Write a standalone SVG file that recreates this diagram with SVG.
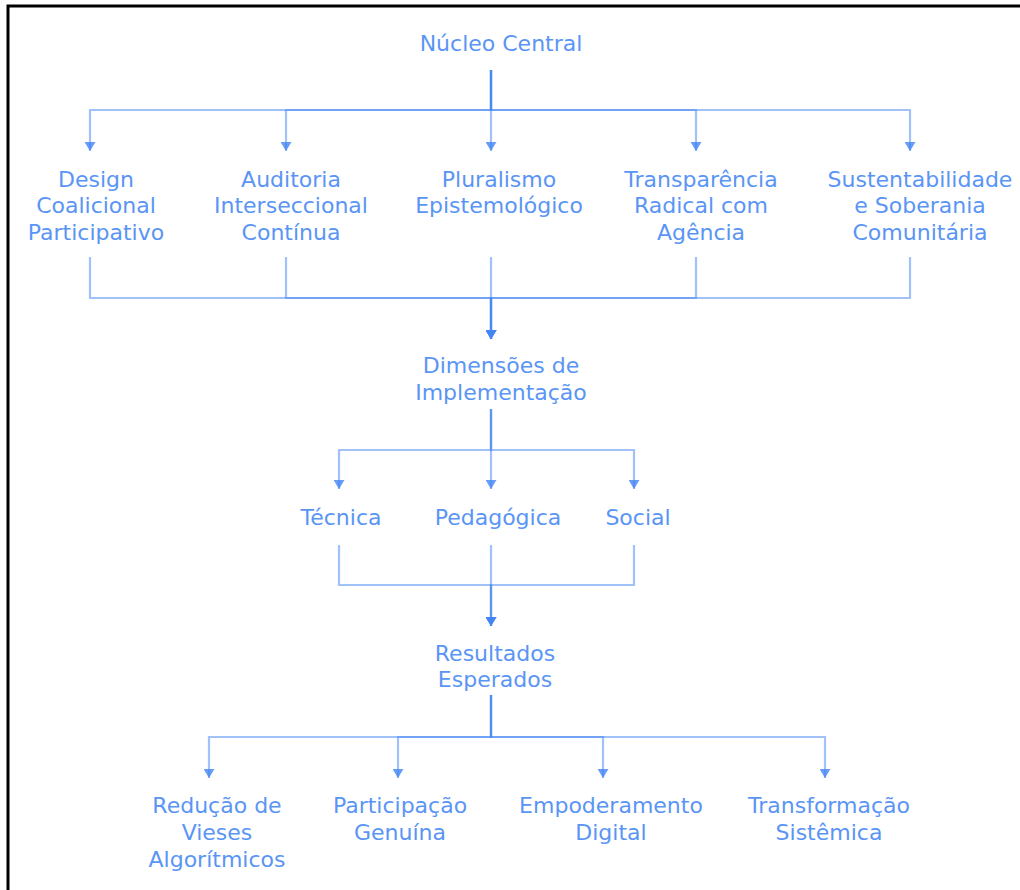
<svg xmlns="http://www.w3.org/2000/svg" width="1020" height="890" viewBox="0 0 1020 890">
<style>
.t{font-family:"DejaVu Sans",sans-serif;font-size:22px;fill:#5a95f5;text-anchor:middle}
.e{fill:none;stroke:#4285f4;stroke-opacity:0.5;stroke-width:2.2}
.a{marker-end:url(#ah)}
</style>
<defs>
<marker id="ah" viewBox="0 0 9 11" refX="9" refY="5.5" markerWidth="9" markerHeight="11" markerUnits="userSpaceOnUse" orient="auto">
<path d="M0,0 L9,5.5 L0,11 Z" fill="#4285f4" fill-opacity="0.8"/>
</marker>
</defs>
<rect width="1020" height="890" fill="#fff"/>
<path d="M8,890 L8,6 L1020,6" fill="none" stroke="#000" stroke-width="3"/>
<g id="connectors">
<path class="e a" d="M491,70 V110 H90 V151"/>
<path class="e a" d="M491,70 V110 H286 V151"/>
<path class="e a" d="M491,70 V151"/>
<path class="e a" d="M491,70 V110 H696 V151"/>
<path class="e a" d="M491,70 V110 H910 V151"/>
<path class="e a" d="M90,257 V298 H491 V339"/>
<path class="e a" d="M286,257 V298 H491 V339"/>
<path class="e a" d="M491,257 V339"/>
<path class="e a" d="M696,257 V298 H491 V339"/>
<path class="e a" d="M910,257 V298 H491 V339"/>
<path class="e a" d="M491,409 V450 H339 V489"/>
<path class="e a" d="M491,409 V489"/>
<path class="e a" d="M491,409 V450 H634 V489"/>
<path class="e a" d="M339,545 V585 H491 V626"/>
<path class="e a" d="M491,545 V626"/>
<path class="e a" d="M634,545 V585 H491 V626"/>
<path class="e a" d="M491,695 V737 H209 V778"/>
<path class="e a" d="M491,695 V737 H398 V778"/>
<path class="e a" d="M491,695 V737 H603 V778"/>
<path class="e a" d="M491,695 V737 H825 V778"/>
</g>
<g id="nucleo"><text class="t" x="501" y="51">Núcleo Central</text></g>
<g id="design"><text class="t" x="96" y="187">Design</text><text class="t" x="96" y="213">Coalicional</text><text class="t" x="96" y="240">Participativo</text></g>
<g id="auditoria"><text class="t" x="291" y="187">Auditoria</text><text class="t" x="291" y="213">Interseccional</text><text class="t" x="291" y="240">Contínua</text></g>
<g id="pluralismo"><text class="t" x="499" y="187">Pluralismo</text><text class="t" x="499" y="213">Epistemológico</text></g>
<g id="transparencia"><text class="t" x="701" y="187">Transparência</text><text class="t" x="701" y="213">Radical com</text><text class="t" x="701" y="240">Agência</text></g>
<g id="sustentabilidade"><text class="t" x="920" y="187">Sustentabilidade</text><text class="t" x="920" y="213">e Soberania</text><text class="t" x="920" y="240">Comunitária</text></g>
<g id="dimensoes"><text class="t" x="501" y="373">Dimensões de</text><text class="t" x="501" y="400">Implementação</text></g>
<g id="tecnica"><text class="t" x="341" y="525">Técnica</text></g>
<g id="pedagogica"><text class="t" x="498" y="525">Pedagógica</text></g>
<g id="social"><text class="t" x="638" y="525">Social</text></g>
<g id="resultados"><text class="t" x="495" y="661">Resultados</text><text class="t" x="495" y="687">Esperados</text></g>
<g id="reducao"><text class="t" x="217" y="813">Redução de</text><text class="t" x="217" y="840">Vieses</text><text class="t" x="217" y="867">Algorítmicos</text></g>
<g id="participacao"><text class="t" x="400" y="813">Participação</text><text class="t" x="400" y="840">Genuína</text></g>
<g id="empoderamento"><text class="t" x="611" y="813">Empoderamento</text><text class="t" x="611" y="840">Digital</text></g>
<g id="transformacao"><text class="t" x="829" y="813">Transformação</text><text class="t" x="829" y="840">Sistêmica</text></g>
</svg>
